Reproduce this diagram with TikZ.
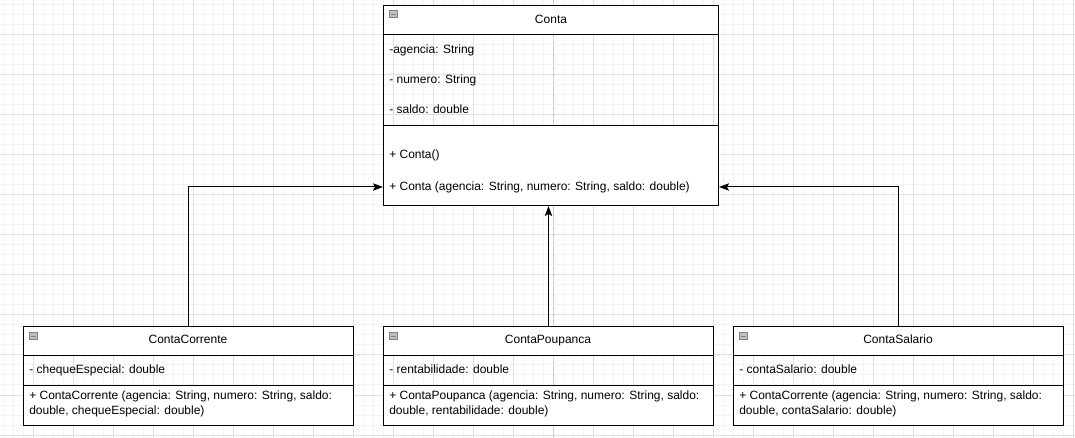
\documentclass[tikz,border=0pt]{standalone}
\usepackage{fontspec}
\setmainfont{Liberation Sans}
\usetikzlibrary{arrows.meta}

\definecolor{grillefine}{HTML}{F4F4F4}
\definecolor{grille}{HTML}{E0E0E0}
\definecolor{guide}{HTML}{C4C4C4}
\definecolor{icone}{HTML}{C0C0C0}

\tikzset{
  classe/.style={draw, line width=0.75pt, anchor=north west, inner sep=0pt},
  membre/.style={anchor=base west, inner sep=0pt, font=\fontsize{9}{11}\selectfont},
  titre/.style={anchor=base, inner sep=0pt, font=\fontsize{9}{11}\selectfont},
  icone/.style={draw=gray, fill=icone, line width=0.5pt, anchor=north west, inner sep=0pt,
    minimum width=6pt, minimum height=5.5pt,
    path picture={\draw[line width=0.6pt] ([xshift=1.2pt]path picture bounding box.west) -- ([xshift=-1.2pt]path picture bounding box.east);}},
  fleche/.style={-{Stealth[length=7.5pt,width=5.5pt,inset=1.5pt]}, line width=0.75pt}
}

\begin{document}
\begin{tikzpicture}[x=0.75pt,y=-0.75pt]
        \useasboundingbox (0,0) rectangle (1075,438);
        \fill[white] (0,0) rectangle (1075,438);

        % Grille de fond
        \foreach \x in {3,13,...,1073} \draw[grillefine, line width=0.75pt] (\x,0) -- (\x,438);
        \foreach \y in {5,15,...,435} \draw[grillefine, line width=0.75pt] (0,\y) -- (1075,\y);
        \foreach \x in {33,73,...,1073} \draw[grille, line width=0.75pt] (\x,0) -- (\x,438);
        \foreach \y in {35,75,...,435} \draw[grille, line width=0.75pt] (0,\y) -- (1075,\y);
        \draw[guide, dashed, dash pattern=on 3pt off 2pt, line width=0.75pt] (553,0) -- (553,438);

        % Classe Conta
        \fill[white] (383,5) rectangle (718,35);
        \fill[white] (383,125) rectangle (718,205);
        \node[classe, minimum width={335*0.75pt}, minimum height={200*0.75pt}] (conta) at (383,5) {};
        \draw[line width=0.75pt] (383,35) -- (718,35);
        \draw[line width=0.75pt] (383,125.5) -- (718,125.5);
        \node[icone] (contaI) at (389,10) {};
        \node[titre] (contaT) at (551,24) {Conta};
        \node[membre] (contaA1) at (389,53.5) {-agencia: String};
        \node[membre] (contaA2) at (389,83.5) {- numero: String};
        \node[membre] (contaA3) at (389,113.5) {- saldo: double};
        \node[membre] (contaM1) at (389,159) {+ Conta()};
        \node[membre] (contaM2) at (389,191) {+ Conta (agencia: String, numero: String, saldo: double)};
        \coordinate (contaY) at (0,187);

        % Classe ContaCorrente
        \fill[white] (23,326) rectangle (353,356);
        \fill[white] (23,386) rectangle (353,425);
        \node[classe, minimum width={330*0.75pt}, minimum height={99*0.75pt}] (corrente) at (23,326) {};
        \draw[line width=0.75pt] (23,356) -- (353,356);
        \draw[line width=0.75pt] (23,386) -- (353,386);
        \node[icone] (correnteI) at (29,332) {};
        \node[titre] (correnteT) at (188,344) {ContaCorrente};
        \node[membre] (correnteA1) at (29,373.5) {- chequeEspecial: double};
        \node[membre] (correnteM1) at (29,399.5) {+ ContaCorrente (agencia: String, numero: String, saldo:};
        \node[membre] (correnteM2) at (29,414.5) {double, chequeEspecial: double)};

        % Classe ContaPoupanca
        \fill[white] (383,326) rectangle (713,356);
        \fill[white] (383,386) rectangle (713,425);
        \node[classe, minimum width={330*0.75pt}, minimum height={99*0.75pt}] (poupanca) at (383,326) {};
        \draw[line width=0.75pt] (383,356) -- (713,356);
        \draw[line width=0.75pt] (383,386) -- (713,386);
        \node[icone] (poupancaI) at (389,332) {};
        \node[titre] (poupancaT) at (548,344) {ContaPoupanca};
        \node[membre] (poupancaA1) at (389,373.5) {- rentabilidade: double};
        \node[membre] (poupancaM1) at (389,399.5) {+ ContaPoupanca (agencia: String, numero: String, saldo:};
        \node[membre] (poupancaM2) at (389,414.5) {double, rentabilidade: double)};

        % Classe ContaSalario
        \fill[white] (733,326) rectangle (1063,356);
        \fill[white] (733,386) rectangle (1063,425);
        \node[classe, minimum width={330*0.75pt}, minimum height={99*0.75pt}] (salario) at (733,326) {};
        \draw[line width=0.75pt] (733,356) -- (1063,356);
        \draw[line width=0.75pt] (733,386) -- (1063,386);
        \node[icone] (salarioI) at (739,332) {};
        \node[titre] (salarioT) at (898,344) {ContaSalario};
        \node[membre] (salarioA1) at (739,373.5) {- contaSalario: double};
        \node[membre] (salarioM1) at (739,399.5) {+ ContaCorrente (agencia: String, numero: String, saldo:};
        \node[membre] (salarioM2) at (739,414.5) {double, contaSalario: double)};

        % Heritage
        \draw[fleche] (corrente.north) |- (conta.west |- contaY);
        \draw[fleche] (poupanca.north) -- (poupanca.north |- conta.south);
        \draw[fleche] (salario.north) |- (conta.east |- contaY);
    \end{tikzpicture}
\end{document}
